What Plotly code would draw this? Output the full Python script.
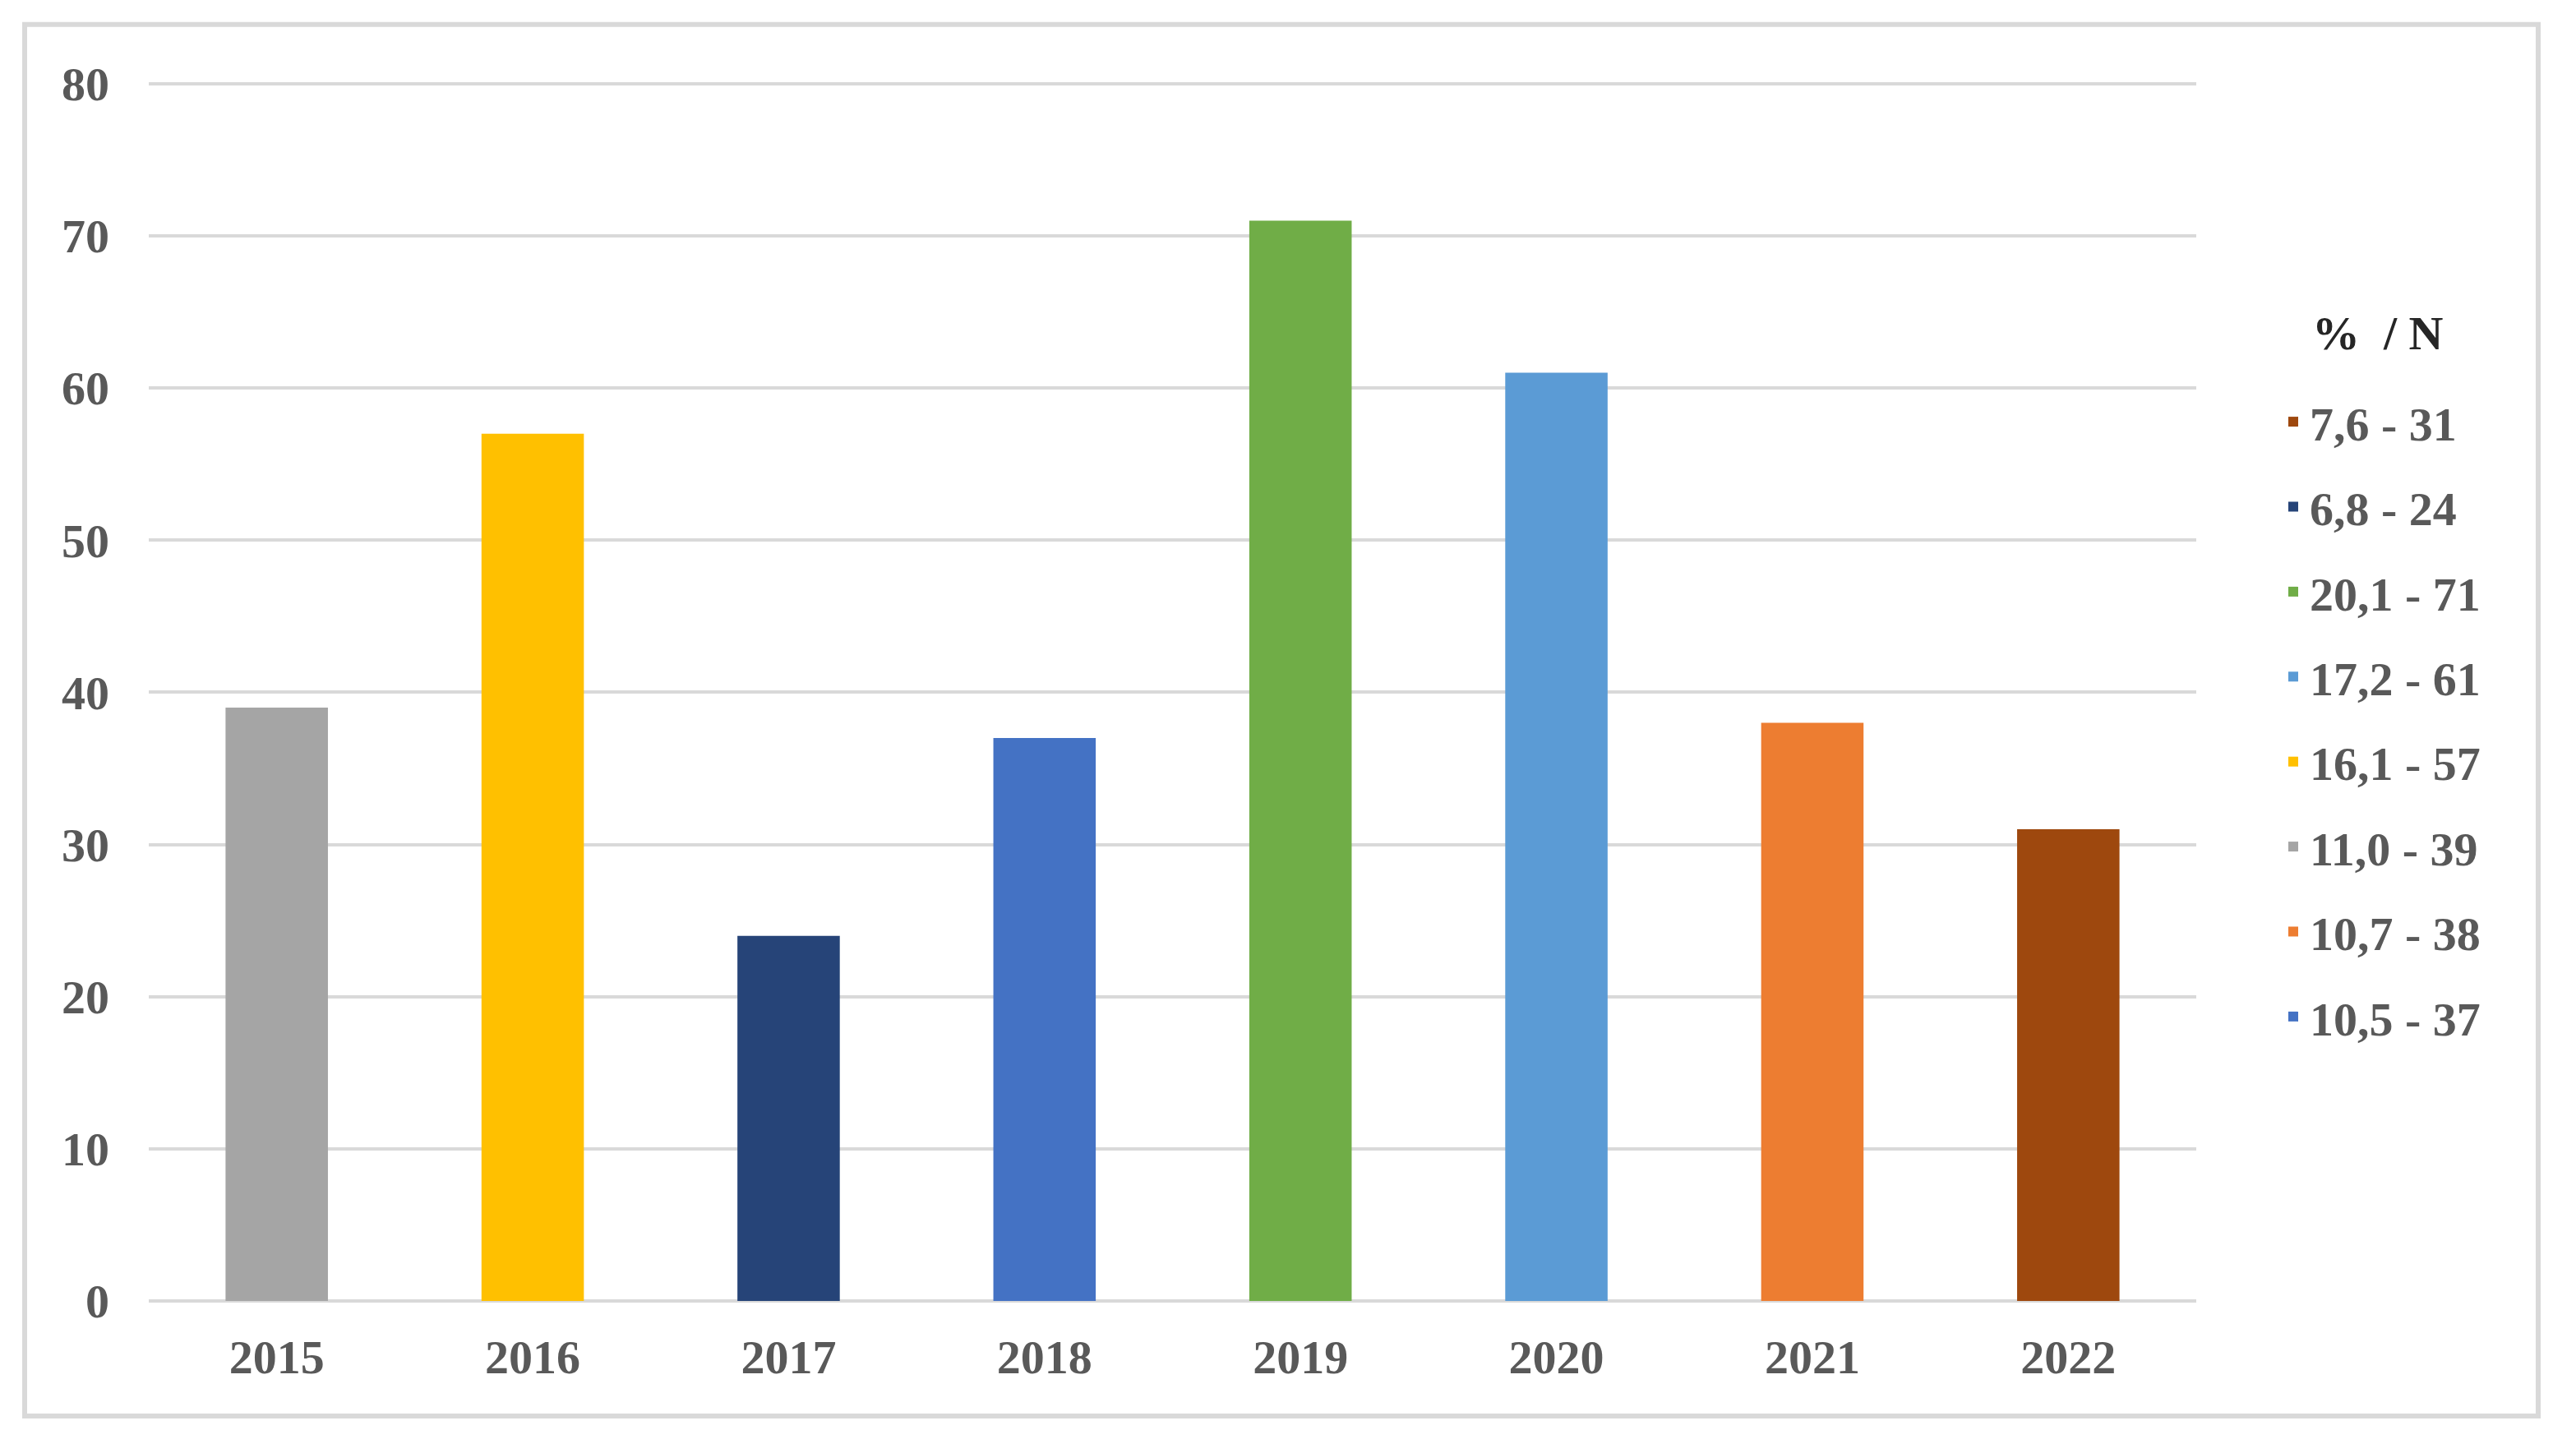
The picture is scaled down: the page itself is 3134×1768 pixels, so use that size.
import plotly.graph_objects as go

# ---- data ----
years = ["2015", "2016", "2017", "2018", "2019", "2020", "2021", "2022"]
counts = [39, 57, 24, 37, 71, 61, 38, 31]
percents = ["11,0", "16,1", "6,8", "10,5", "20,1", "17,2", "10,7", "7,6"]
bar_colors = ["#A5A5A5", "#FFC000", "#264478", "#4472C4", "#70AD47", "#5B9BD5", "#ED7D31", "#9E480E"]
legend_order = ["2022", "2017", "2019", "2020", "2016", "2015", "2021", "2018"]
y_ticks = [0, 10, 20, 30, 40, 50, 60, 70, 80]
legend_title = "%\u00a0\u00a0/ N"

W, H = 3134, 1768
OFF = 8  # default page body margin
Y_MAX = 80.1
L, R, B = 181, 2672, 1583            # plot area in reference px
PPU = (B - 102) / 80.0                # px per unit (80 gridline at y=102)
T = B - Y_MAX * PPU

FONT = "Liberation Serif, Times New Roman, serif"
FS = 58
GRAY = "#595959"
GRID = "#D9D9D9"

fig = go.Figure()
for yr in legend_order:
    i = years.index(yr)
    fig.add_trace(go.Bar(
        x=[years[i]], y=[counts[i]],
        name=f"{percents[i]} - {counts[i]}",
        marker=dict(color=bar_colors[i], line=dict(width=0)),
        width=0.4,
        legendgroup=yr,
    ))

def px_to_paper_x(px):
    return (px - L) / (R - L)

def px_to_paper_y(py):
    return (B - py) / (B - T)

FW, FH = W - 2 * OFF, H - 2 * OFF
fig.update_layout(
    width=FW, height=FH,
    margin=dict(l=L - OFF, r=FW - (R - OFF), t=T - OFF, b=FH - (B - OFF), autoexpand=False),
    paper_bgcolor="white", plot_bgcolor="white",
    barmode="overlay",
    font=dict(family=FONT, size=FS, color=GRAY),
    showlegend=True,
    legend=dict(
        font=dict(family=FONT, size=FS, color=GRAY, weight="bold"),
        x=px_to_paper_x(2770), xanchor="left",
        y=px_to_paper_y(469), yanchor="top",
        traceorder="grouped", tracegroupgap=25,
        bgcolor="rgba(0,0,0,0)",
    ),
    annotations=[dict(
        text=f"<b>{legend_title}</b>", xref="paper", yref="paper",
        x=px_to_paper_x(2811), y=px_to_paper_y(406),
        xanchor="left", yanchor="middle", showarrow=False,
        font=dict(family=FONT, size=FS, color="#262626"),
    )],
    xaxis=dict(
        type="category", categoryorder="array", categoryarray=years,
        range=[-0.5, 7.5],
        showgrid=False, showline=False, zeroline=False, ticks="",
        tickfont=dict(family=FONT, size=FS, color=GRAY, weight="bold"),
        ticklabelstandoff=29,
        fixedrange=True,
    ),
    yaxis=dict(
        range=[0, Y_MAX], tickvals=y_ticks,
        showgrid=True, gridcolor=GRID, gridwidth=4,
        zeroline=True, zerolinecolor=GRID, zerolinewidth=4,
        showline=False, ticks="",
        tickfont=dict(family=FONT, size=FS, color=GRAY, weight="bold"),
        ticklabelstandoff=47,
        fixedrange=True,
    ),
    shapes=[dict(
        type="rect", xref="paper", yref="paper",
        x0=px_to_paper_x(30), x1=px_to_paper_x(3088),
        y0=px_to_paper_y(1723), y1=px_to_paper_y(30),
        line=dict(color=GRID, width=6), fillcolor="rgba(0,0,0,0)",
        layer="below",
    )],
)

fig.write_html("out.html")
